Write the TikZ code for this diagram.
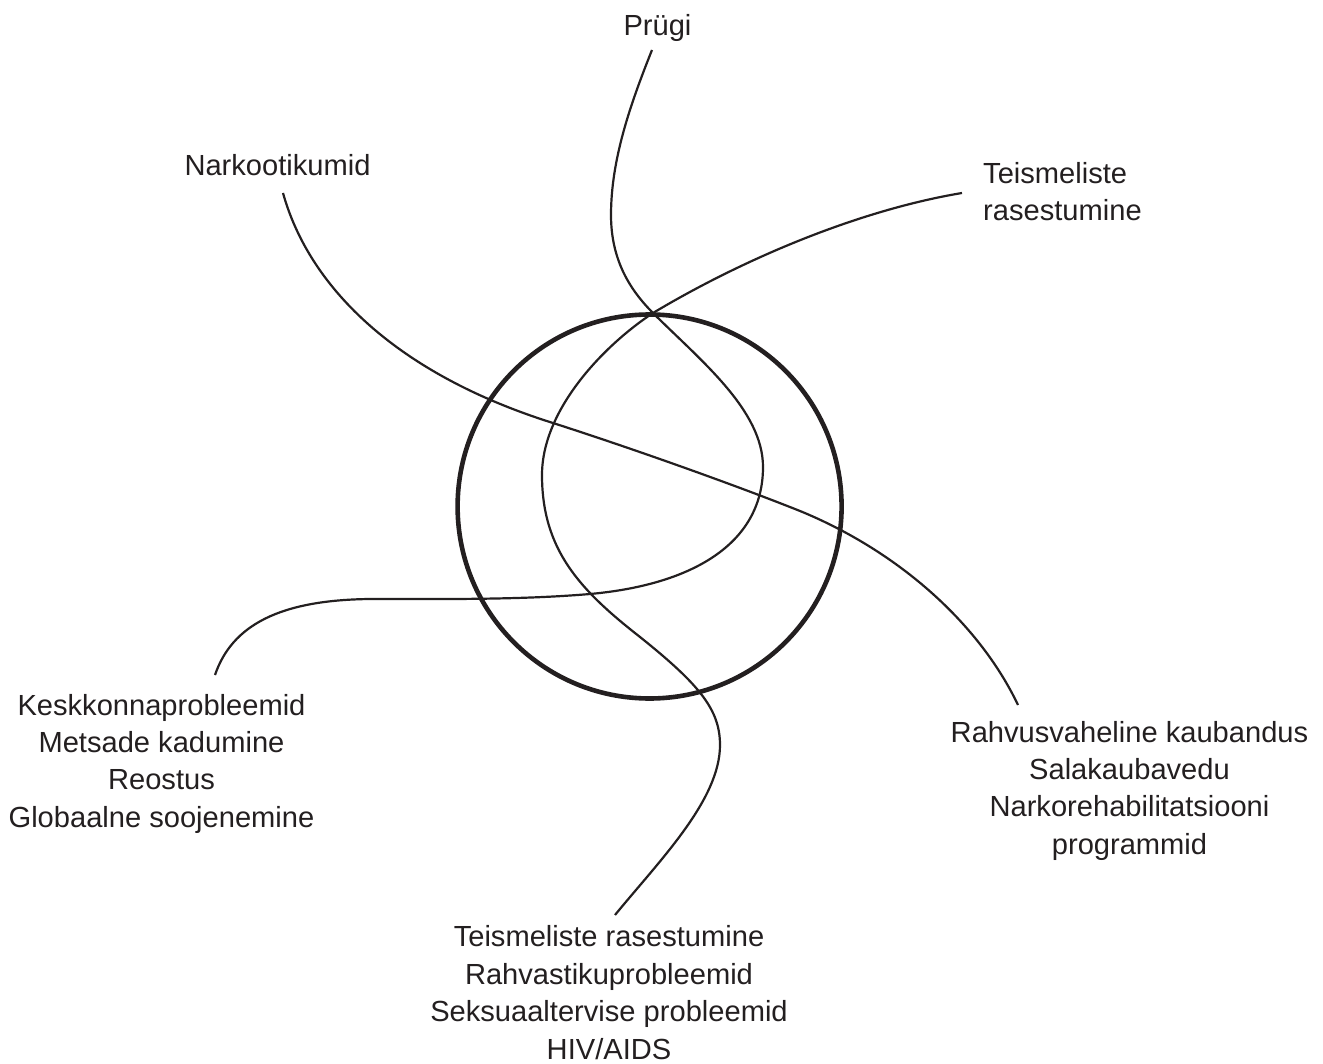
\documentclass[tikz,border=0pt]{standalone}
\usepackage{fontspec}
\setmainfont{Liberation Sans}
\definecolor{ink}{RGB}{35,31,32}
\begin{document}
\begin{tikzpicture}[x=1pt,y=-1pt,
  lbl/.style={font=\fontsize{29.1}{37.4}\selectfont, text=ink, inner sep=0pt, align=center, anchor=north},
  thread/.style={draw=ink, line width=2.2pt},
  ring/.style={draw=ink, line width=4.6pt}]
\useasboundingbox (0,0) rectangle (1323,1064);

% labels
\node[lbl] (prugi) at (657.5,14.2) {Prügi};
\node[lbl] (narko) at (277.5,153.8) {Narkootikumid};
\node[lbl, anchor=north west, align=left] (teis) at (983,161.8) {Teismeliste\\rasestumine};
\node[lbl] (kesk) at (161.5,693.8) {Keskkonnaprobleemid\\Metsade kadumine\\Reostus\\Globaalne soojenemine};
\node[lbl] (rahv) at (1129.5,720.8) {Rahvusvaheline kaubandus\\Salakaubavedu\\Narkorehabilitatsiooni\\programmid};
\node[lbl] (bott) at (609,925.6) {Teismeliste rasestumine\\Rahvastikuprobleemid\\Seksuaaltervise probleemid\\HIV/AIDS};

% circle
\node[ring, circle, minimum size=384pt, inner sep=0pt] (ringc) at (649.6,506.5) {};

% curve end points
\coordinate (pS) at (652,50);
\coordinate (pE) at (215,675);
\coordinate (tS) at (962,193);
\coordinate (tE) at (615,915);
\coordinate (nS) at (283,193);
\coordinate (nE) at (1018,705);

% Prügi -> Keskkonnaprobleemid
\draw[thread] (pS) .. controls (630,105) and (611,160) .. (611,215)
  .. controls (611,260) and (630,290) .. (653,313)
  .. controls (700,360) and (763,410) .. (763,467)
  .. controls (763,545) and (690,585) .. (590,594)
  .. controls (520,600) and (440,599) .. (370,599)
  .. controls (280,600) and (232,625) .. (pE);

% Teismeliste rasestumine -> bottom
\draw[thread] (tS) .. controls (860,210) and (745,258) .. (653,313)
  .. controls (603,346) and (542,410) .. (542,475)
  .. controls (542,550) and (580,590) .. (640,637)
  .. controls (700,685) and (720,710) .. (720,745)
  .. controls (720,800) and (660,860) .. (tE);

% Narkootikumid -> Rahvusvaheline kaubandus
\draw[thread] (nS) .. controls (310,290) and (400,375) .. (553,423)
  .. controls (640,451) and (740,487) .. (800,511)
  .. controls (900,552) and (980,625) .. (nE);
\end{tikzpicture}
\end{document}
